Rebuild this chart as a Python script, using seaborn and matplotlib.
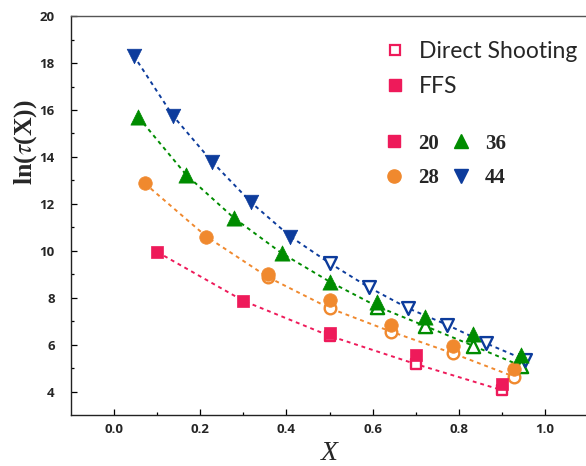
import matplotlib
matplotlib.use("Agg")
import matplotlib.pyplot as plt
from matplotlib.lines import Line2D
from matplotlib.ticker import MultipleLocator
import seaborn as sns
import pandas as pd

# ---------------- data ----------------
x20 = [0.1, 0.3, 0.5, 0.7, 0.9]
ffs20 = [9.95, 7.87, 6.52, 5.55, 4.35]
x20_ds = [0.5, 0.7, 0.9]
ds20 = [6.38, 5.18, 4.07]

x28 = [0.071, 0.214, 0.357, 0.5, 0.643, 0.786, 0.929]
ffs28 = [12.87, 10.61, 9.02, 7.91, 6.85, 5.96, 4.97]
x28_ds = [0.357, 0.5, 0.643, 0.786, 0.929]
ds28 = [8.88, 7.56, 6.56, 5.64, 4.64]

x36 = [0.056, 0.167, 0.278, 0.389, 0.5, 0.611, 0.722, 0.833, 0.944]
ffs36 = [15.69, 13.24, 11.40, 9.90, 8.69, 7.84, 7.20, 6.45, 5.57]
x36_ds = [0.611, 0.722, 0.833, 0.944]
ds36 = [7.63, 6.80, 5.96, 5.11]

x44 = [0.045, 0.136, 0.227, 0.318, 0.409]
ffs44 = [18.32, 15.76, 13.80, 12.06, 10.61]
x44_ds = [0.5, 0.591, 0.682, 0.773, 0.864, 0.955]
ds44 = [9.48, 8.45, 7.56, 6.85, 6.06, 5.35]

sizes = ["20", "28", "36", "44"]
series_labels = ["Direct Shooting", "FFS"]
x_ticks = [0.0, 0.2, 0.4, 0.6, 0.8, 1.0]
y_ticks = [4, 6, 8, 10, 12, 14, 16, 18, 20]

# ---------------- style ----------------
sns.set_theme(style="ticks")
plt.rcParams["font.family"] = ["Open Sans", "DejaVu Sans"]
plt.rcParams["mathtext.fontset"] = "stix"

colors = {"20": "#EE1A5A", "28": "#F0892E", "36": "#008C00", "44": "#0D3C9C"}
markers = {"20": "s", "28": "o", "36": "^", "44": "v"}
ffs_size = {"20": 78, "28": 95, "36": 120, "44": 110}
ds_size = {"20": 55, "28": 70, "36": 90, "44": 85}

data = {
    "20": (x20, ffs20, x20_ds, ds20),
    "28": (x28, ffs28, x28_ds, ds28),
    "36": (x36, ffs36, x36_ds, ds36),
    "44": (x44, ffs44, x44_ds, ds44),
}

fig = plt.figure(figsize=(5.86, 4.66), dpi=100)
ax = fig.add_axes([0.122, 0.1105, 0.878, 0.855])

for key, (xf, yf, xd, yd) in data.items():
    c = colors[key]
    # line: FFS points before the direct-shooting range, then direct shooting
    lx = [a for a in xf if a < min(xd)] + list(xd)
    ly = [b for a, b in zip(xf, yf) if a < min(xd)] + list(yd)
    line_df = pd.DataFrame({"X": lx, "Y": ly})
    sns.lineplot(data=line_df, x="X", y="Y", ax=ax, color=c, lw=1.4,
                 linestyle=(0, (2.0, 2.0)), sort=False, zorder=1)
    ds_df = pd.DataFrame({"X": xd, "Y": yd})
    sns.scatterplot(data=ds_df, x="X", y="Y", ax=ax, marker=markers[key],
                    s=ds_size[key], color="white", edgecolor=c, linewidth=1.7,
                    zorder=2)
    ffs_df = pd.DataFrame({"X": xf, "Y": yf})
    sns.scatterplot(data=ffs_df, x="X", y="Y", ax=ax, marker=markers[key],
                    s=ffs_size[key], color=c, edgecolor=c, linewidth=0.5,
                    zorder=3)

ax.set_xlim(-0.0994, 1.0957)
ax.set_ylim(3.03, 20)
ax.set_xticks(x_ticks)
ax.set_yticks(y_ticks)
ax.set_xticklabels([f"{v:.1f}" for v in x_ticks])
ax.set_yticklabels([str(v) for v in y_ticks])
ax.xaxis.set_minor_locator(MultipleLocator(0.1))
ax.yaxis.set_minor_locator(MultipleLocator(1))
ax.tick_params(axis="both", which="major", direction="in", length=4.5,
               width=0.9, color="black", labelsize=9.5)
ax.tick_params(axis="both", which="minor", direction="in", length=2.2,
               width=0.9, color="black")
ax.tick_params(axis="y", which="major", pad=12)
ax.tick_params(axis="x", which="major", pad=6)
for lab in ax.get_xticklabels() + ax.get_yticklabels():
    lab.set_fontweight("bold")
ax.set_xlabel("")
ax.set_ylabel("")
for side in ["left", "bottom", "top"]:
    ax.spines[side].set_visible(True)
    ax.spines[side].set_linewidth(1.0)
    ax.spines[side].set_color("#222222")
ax.spines["top"].set_color("#555555")
ax.spines["right"].set_visible(False)

fig.text(0.5614, 0.027, "X", fontsize=20, style="italic",
         family="Liberation Serif", ha="center", va="center")
fig.text(0.043, 0.695, r"ln($\tau$(X))", fontsize=18.5, fontweight="bold",
         family="Liberation Serif", rotation=90, ha="center", va="center")

# legends
pink = colors["20"]
h1 = [Line2D([], [], marker="s", ls="none", mfc="white", mec=pink, mew=1.6, ms=7),
      Line2D([], [], marker="s", ls="none", mfc=pink, mec=pink, ms=8.5)]
leg1 = ax.legend(h1, series_labels, loc="upper left",
                 bbox_to_anchor=(0.6115, 0.937), frameon=False,
                 prop={"family": "Lato", "size": 16.5}, handlelength=0.8,
                 handletextpad=0.62, labelspacing=0.62, borderpad=0,
                 borderaxespad=0)
ax.add_artist(leg1)
h2 = []
for key in ["20", "28", "36", "44"]:
    ms = {"20": 8.5, "28": 9.5, "36": 10.5, "44": 10}[key]
    h2.append(Line2D([], [], marker=markers[key], ls="none", mfc=colors[key],
                     mec=colors[key], ms=ms))
leg2 = ax.legend(h2, sizes, loc="upper left", ncol=2,
                 bbox_to_anchor=(0.6115, 0.705), frameon=False,
                 prop={"family": "Liberation Serif", "size": 15, "weight": "bold"},
                 handlelength=0.8, handletextpad=0.75, labelspacing=0.7,
                 columnspacing=0.65, borderpad=0, borderaxespad=0)

fig.savefig("out.png", dpi=100)
